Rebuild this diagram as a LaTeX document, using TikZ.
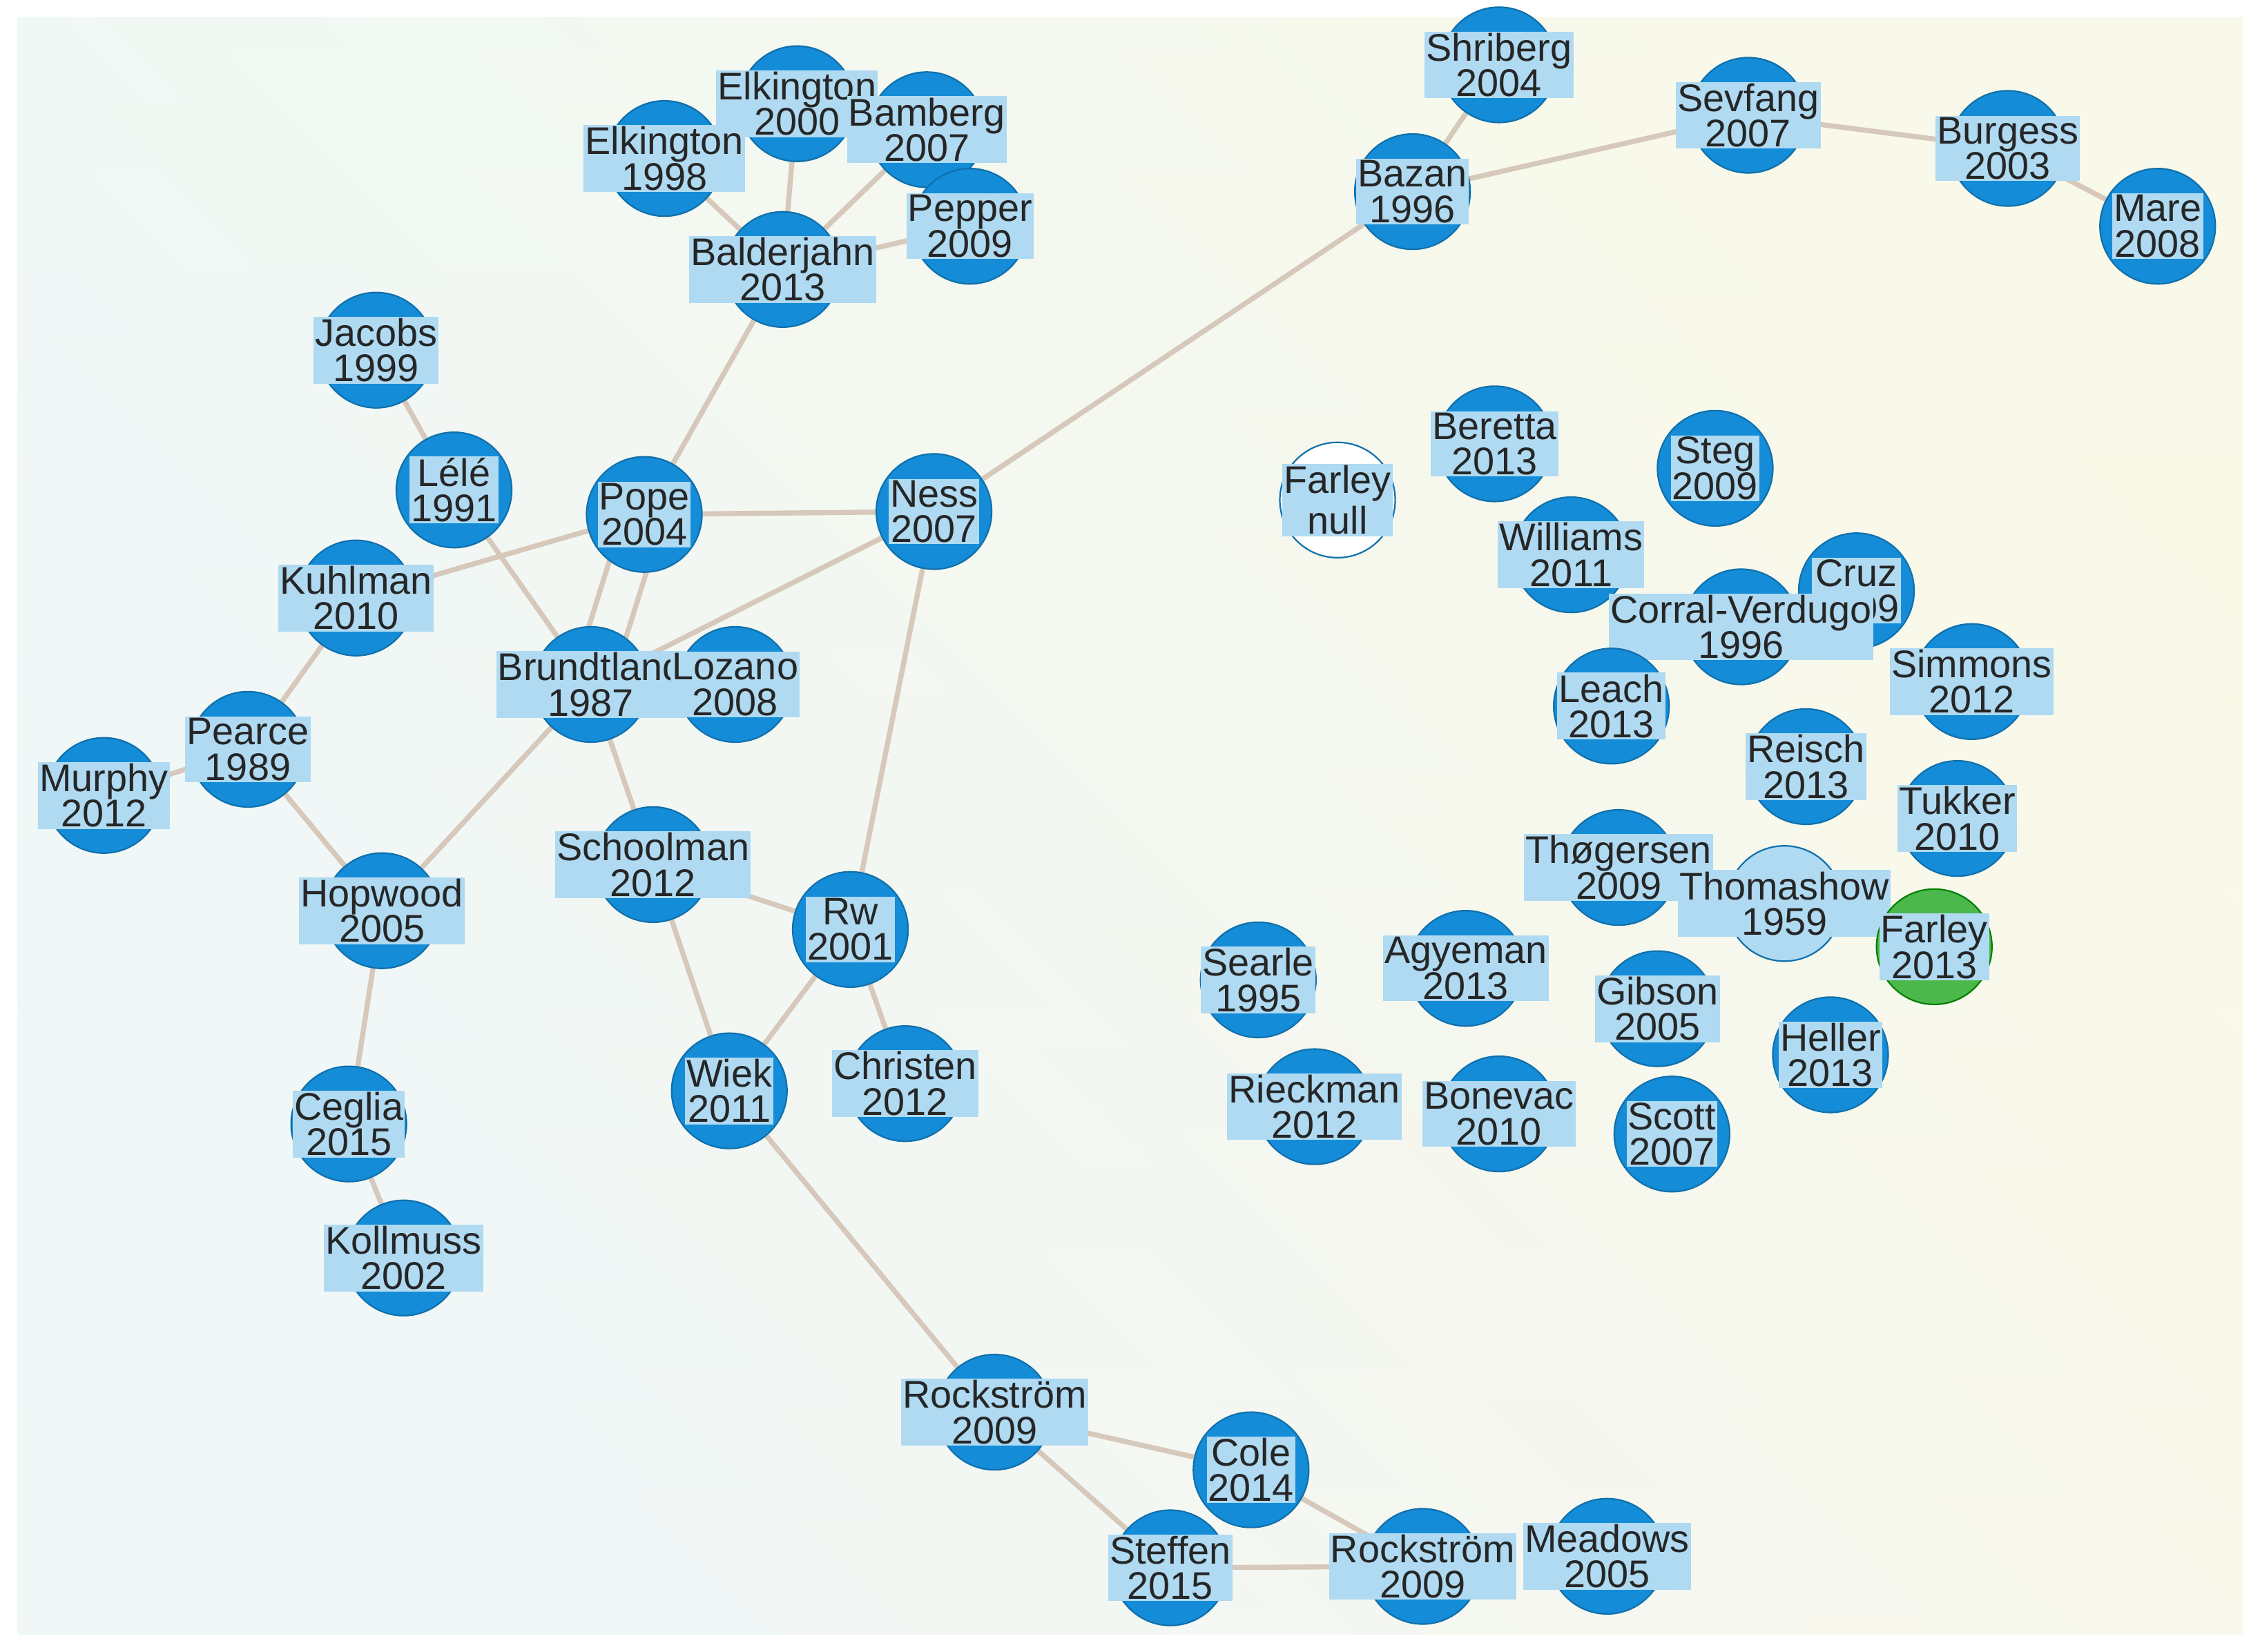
\documentclass[tikz,border=0pt]{standalone}
\usepackage{fontspec}
\setmainfont{Liberation Sans}
\usetikzlibrary{backgrounds}
\definecolor{nodeblue}{RGB}{20,140,215}
\definecolor{labblue}{RGB}{175,218,242}
\definecolor{edgetan}{RGB}{214,200,186}
\definecolor{bgblue}{RGB}{232,246,252}
\definecolor{bgyellow}{RGB}{253,249,222}
\tikzset{paper/.style={circle,draw=nodeblue!80!black,line width=0.3pt,fill=nodeblue,minimum size=0.8cm,inner sep=0pt}}
\tikzset{lab/.style={fill=labblue,inner sep=0.3pt,align=center,font=\fontsize{7.6}{7}\selectfont,text=black!85}}
\tikzset{link/.style={draw=edgetan,line width=1pt}}
\newcommand{\paper}[4][]{\node[paper,#1,label={[lab]center:#4}] (#2) at (#3) {};}
\begin{document}
\begin{tikzpicture}[x=0.01cm,y=-0.01cm]
		\useasboundingbox (0,0) rectangle (1568,1146);

		% upper right chain
		\paper{shri}{1040,45}{Shriberg\\2004}
		\paper{sevf}{1213,80}{Sevfang\\2007}
		\paper{burg}{1393,103}{Burgess\\2003}
		\paper{mare}{1497,157}{Mare\\2008}
		\paper{baza}{980,133}{Bazan\\1996}

		% main component
		\paper{elk00}{553,72}{Elkington\\2000}
		\paper{bamb}{643,90}{Bamberg\\2007}
		\paper{elk98}{461,110}{Elkington\\1998}
		\paper{pepp}{673,157}{Pepper\\2009}
		\paper{bald}{543,187}{Balderjahn\\2013}
		\paper{jaco}{261,243}{Jacobs\\1999}
		\paper{lele}{315,340}{Lélé\\1991}
		\paper{pope}{447,357}{Pope\\2004}
		\paper{ness}{648,355}{Ness\\2007}
		\paper{kuhl}{247,415}{Kuhlman\\2010}
		\paper{brun}{410,475}{Brundtland\\1987}
		\paper{loza}{510,475}{Lozano\\2008}
		\paper{pear}{172,520}{Pearce\\1989}
		\paper{murp}{72,552}{Murphy\\2012}
		\paper{hopw}{265,632}{Hopwood\\2005}
		\paper{scho}{453,600}{Schoolman\\2012}
		\paper{rw}{590,645}{Rw\\2001}
		\paper{wiek}{506,757}{Wiek\\2011}
		\paper{chri}{628,752}{Christen\\2012}
		\paper{cegl}{242,780}{Ceglia\\2015}
		\paper{koll}{280,873}{Kollmuss\\2002}
		\paper{rock}{690,980}{Rockström\\2009}
		\paper{cole}{868,1020}{Cole\\2014}
		\paper{steff}{812,1088}{Steffen\\2015}
		\paper{rockb}{987,1087}{Rockström\\2009}
		\paper{mead}{1115,1080}{Meadows\\2005}

		% isolated papers
		\paper{bere}{1037,308}{Beretta\\2013}
		\paper[fill=white]{farn}{928,347}{Farley\\null}
		\paper{steg}{1190,325}{Steg\\2009}
		\paper{will}{1090,385}{Williams\\2011}
		\paper{cruz}{1288,410}{Cruz\\2009}
		\paper{corr}{1208,435}{Corral-Verdugo\\1996}
		\paper{simm}{1368,473}{Simmons\\2012}
		\paper{leac}{1118,490}{Leach\\2013}
		\paper{reis}{1253,532}{Reisch\\2013}
		\paper{tukk}{1358,568}{Tukker\\2010}
		\paper{thog}{1123,602}{Thøgersen\\2009}
		\paper[fill=labblue]{thom}{1238,627}{Thomashow\\1959}
		\paper[fill=green!60!black!70,draw=green!50!black]{far13}{1342,657}{Farley\\2013}
		\paper{sear}{873,680}{Searle\\1995}
		\paper{agye}{1017,672}{Agyeman\\2013}
		\paper{gibs}{1150,700}{Gibson\\2005}
		\paper{hell}{1270,732}{Heller\\2013}
		\paper{riec}{912,768}{Rieckman\\2012}
		\paper{bone}{1040,773}{Bonevac\\2010}
		\paper{scot}{1160,787}{Scott\\2007}

		\begin{scope}[on background layer]
		\shade[left color=bgblue,right color=bgyellow,shading angle=135] (12,12) rectangle (1556,1134);
		\shade[top color=bgblue!60!white,bottom color=bgyellow!80!orange!20,opacity=0.4] (12,12) rectangle (1556,1134);
		\draw[link] (shri) -- (baza);
		\draw[link] (baza) -- (sevf);
		\draw[link] (sevf) -- (burg);
		\draw[link] (burg) -- (mare);
		\draw[link] (baza) -- (ness);
		\draw[link] (elk98) -- (bald);
		\draw[link] (elk00) -- (bald);
		\draw[link] (bamb) -- (bald);
		\draw[link] (pepp) -- (bald);
		\draw[link] (bald) -- (pope);
		\draw[link] (jaco) -- (lele);
		\draw[link] (lele) -- (brun);
		\draw[link] (pope) -- (ness);
		\draw[link] (pope) -- (kuhl);
		\draw[link] ([xshift=-4]pope.center) -- ([xshift=-4]brun.center);
		\draw[link] ([xshift=4]pope.center) -- ([xshift=4]brun.center);
		\draw[link] (ness) -- (brun);
		\draw[link] (ness) -- (rw);
		\draw[link] (kuhl) -- (pear);
		\draw[link] (pear) -- (murp);
		\draw[link] (pear) -- (hopw);
		\draw[link] (brun) -- (hopw);
		\draw[link] (brun) -- (scho);
		\draw[link] (scho) -- (rw);
		\draw[link] (scho) -- (wiek);
		\draw[link] (rw) -- (wiek);
		\draw[link] (rw) -- (chri);
		\draw[link] (hopw) -- (cegl);
		\draw[link] (cegl) -- (koll);
		\draw[link] (wiek) -- (rock);
		\draw[link] (rock) -- (cole);
		\draw[link] (rock) -- (steff);
		\draw[link] (cole) -- (rockb);
		\draw[link] (steff) -- (rockb);
		\end{scope}
	\end{tikzpicture}
\end{document}
